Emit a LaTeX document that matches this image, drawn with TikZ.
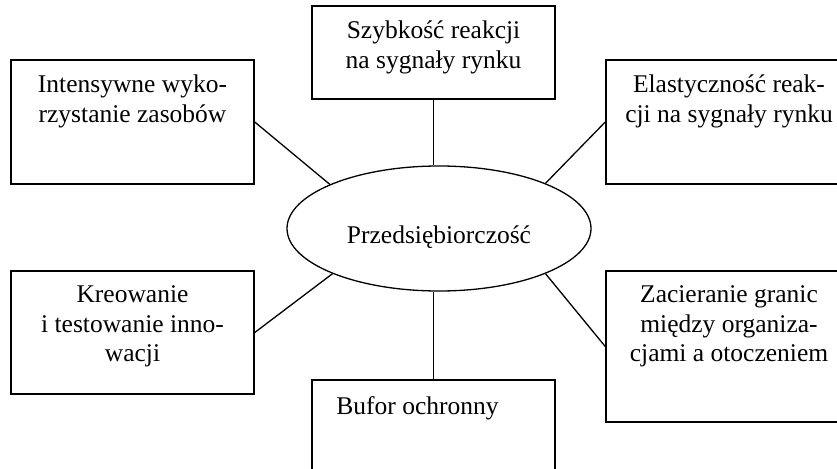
\documentclass[tikz,border=0pt]{standalone}
\usepackage{fontspec}
\setmainfont{Liberation Serif}
\usetikzlibrary{shapes.geometric}

\begin{document}
\begin{tikzpicture}[x=1pt,y=-1pt,line width=1.3pt,
  box/.style={draw,line width=1.5pt,minimum width=243pt,inner sep=0pt},
  txt/.style={anchor=north,align=center,inner sep=0pt,yshift=-15pt,
    font=\fontsize{25.5}{29.5}\selectfont}]
  \clip (0,0) rectangle (837,468);
  \node[box,minimum height=93pt] (szyb) at (433.5,52.5) {};
  \node[box,minimum height=124pt] (inten) at (132.5,122) {};
  \node[box,minimum width=246pt,minimum height=124pt] (elast) at (729,122) {};
  \node[box,minimum height=123pt] (kreo) at (132.5,332.5) {};
  \node[box,minimum width=246pt,minimum height=151pt] (zacier) at (729,346.5) {};
  \node[box,minimum height=124pt] (bufor) at (433.5,442) {};
  \node[draw,ellipse,minimum width=304pt,minimum height=125pt,inner sep=0pt] (przed) at (439,228.5) {};
  \node[txt] (szybT) at (szyb.north) {Szybkość reakcji\\na sygnały rynku};
  \node[txt] (intenT) at (inten.north) {Intensywne wyko-\\rzystanie zasobów};
  \node[txt] (elastT) at (elast.north) {Elastyczność reak-\\cji na sygnały rynku};
  \node[txt] (kreoT) at (kreo.north) {Kreowanie\\i testowanie inno-\\wacji};
  \node[txt] (zacierT) at (zacier.north) {Zacieranie granic\\między organiza-\\cjami a otoczeniem};
  \node[txt,xshift=-16pt,yshift=-2pt] (buforT) at (bufor.north) {Bufor ochronny};
  \node[txt,anchor=base] (przedT) at (przed) {Przedsiębiorczość};
  \draw (szyb.south) -- (szyb.south |- przed.north);
  \draw (bufor.north) -- (bufor.north |- przed.south);
  \draw (inten.east) -- (przed.158);
  \draw (elast.west) -- (przed.23);
  \draw (kreo.east) -- (przed.203);
  \draw (zacier.west) -- (przed.-23);
\end{tikzpicture}
\end{document}
